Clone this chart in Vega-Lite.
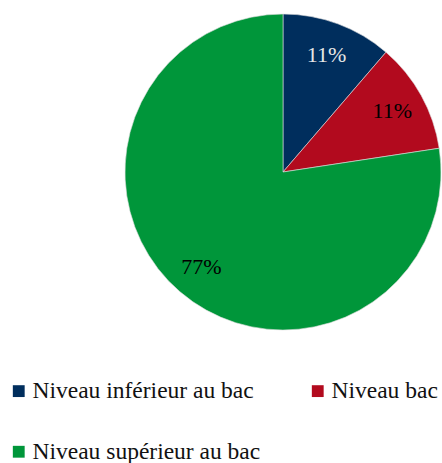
{
  "$schema": "https://vega.github.io/schema/vega-lite/v6.json",
  "autosize": {"type": "none"},
  "width": 316,
  "height": 316,
  "padding": {"left": 125, "top": 14, "right": 1, "bottom": 133},
  "background": "white",
  "config": {"view": {"stroke": null}, "font": "Liberation Serif", "legend": {"labelFont": "Liberation Serif"}},
  "data": {"values": [
    {"cat": "Niveau inférieur au bac", "idx": 1, "value": 11.3, "label": "11%"},
    {"cat": "Niveau bac", "idx": 2, "value": 11.3, "label": "11%"},
    {"cat": "Niveau supérieur au bac", "idx": 3, "value": 77.4, "label": "77%"}
  ]},
  "encoding": {
    "theta": {"field": "value", "type": "quantitative", "stack": true},
    "order": {"field": "idx", "type": "quantitative"}
  },
  "layer": [
    {
      "mark": {"type": "arc", "stroke": "#dddddd", "strokeWidth": 0.6},
      "encoding": {
        "color": {
          "field": "cat", "type": "nominal",
          "scale": {"domain": ["Niveau inférieur au bac", "Niveau bac", "Niveau supérieur au bac"],
                    "range": ["#002E5D", "#B20A1E", "#00963A"]},
          "legend": {
            "title": null, "orient": "none", "legendX": -118, "legendY": 365,
            "direction": "horizontal", "columns": 2, "columnPadding": 45, "rowPadding": 36,
            "symbolType": "square", "symbolSize": 140, "symbolStrokeWidth": 0,
            "labelFont": "Liberation Serif", "labelFontSize": 23.5, "labelColor": "#111111",
            "labelOffset": 2, "labelLimit": 400
          }
        }
      }
    },
    {
      "mark": {"type": "text", "radius": 125, "fontSize": 22, "font": "Liberation Serif"},
      "encoding": {
        "text": {"field": "label"},
        "color": {"condition": {"test": "datum.idx === 1", "value": "#e6e6e6"}, "value": "#000000"}
      }
    }
  ]
}
